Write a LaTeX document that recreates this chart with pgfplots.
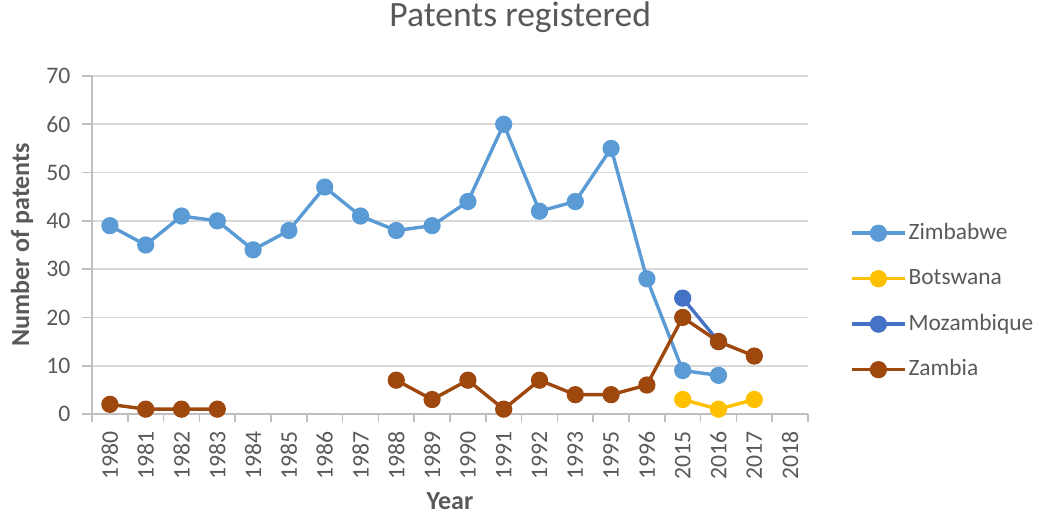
\documentclass[border=0pt]{standalone}
\usepackage{pgfplots}
\pgfplotsset{compat=1.18}
\usepackage{pgfplotstable}
\usepackage{fontspec}
\setmainfont{Carlito}
\definecolor{zim}{HTML}{5B9BD5}
\definecolor{bots}{HTML}{FFC000}
\definecolor{moz}{HTML}{4472C4}
\definecolor{zam}{HTML}{9E480E}
\definecolor{txt}{HTML}{595959}
\definecolor{grd}{HTML}{D9D9D9}
\definecolor{axl}{HTML}{BFBFBF}
\newcommand{\tf}{\fontsize{23.7}{27}\selectfont}

\pgfplotstableread{
x zim bots moz zam
0  39 nan nan 2
1  35 nan nan 1
2  41 nan nan 1
3  40 nan nan 1
4  34 nan nan nan
5  38 nan nan nan
6  47 nan nan nan
7  41 nan nan nan
8  38 nan nan 7
9  39 nan nan 3
10 44 nan nan 7
11 60 nan nan 1
12 42 nan nan 7
13 44 nan nan 4
14 55 nan nan 4
15 28 nan nan 6
16 9  3   24  20
17 8  1   15  15
18 nan 3  nan 12
19 nan nan nan nan
}\data

\begin{document}
\begin{tikzpicture}
\useasboundingbox (0,0) rectangle (1039pt,516pt);
\begin{axis}[
  at={(92pt,102pt)}, anchor=south west,
  scale only axis, width=716pt, height=338pt,
  xmin=-0.5, xmax=19.5, ymin=0, ymax=70,
  xtick={0,...,19},
  xticklabels={1980,1981,1982,1983,1984,1985,1986,1987,1988,1989,1990,1991,1992,1993,1995,1996,2015,2016,2017,2018},
  minor xtick={-0.5,0.5,...,19.5},
  ytick={0,10,...,70},
  yticklabels={0,10,20,30,40,50,60,70},
  axis x line*=bottom, axis y line*=left,
  axis line style={draw=axl, line width=1.6pt, -},
  tick align=outside,
  major tick length=10pt, minor tick length=8pt,
  major x tick style={draw=none},
  minor x tick style={draw=axl, line width=1.6pt},
  y tick style={draw=axl, line width=1.6pt},
  ymajorgrids, grid style={draw=grd, line width=1.8pt},
  tick label style={font=\tf, text=txt},
  xticklabel style={rotate=90, anchor=east},
  yticklabel style={anchor=east},
  xticklabel shift=4pt, yticklabel shift=8pt,
  unbounded coords=jump,
  title={Patents registered},
  title style={at={(axis description cs:0.598,1)}, anchor=base, yshift=43pt, font=\fontsize{35.6}{40}\selectfont, text=txt},
  xlabel={Year}, ylabel={Number of patents},
  xlabel style={at={(axis description cs:0.5,-0.284)}, anchor=base, font=\fontsize{26}{30}\selectfont\bfseries, text=txt},
  ylabel style={at={(axis description cs:-0.0978,0.5)}, anchor=center, font=\fontsize{26}{30}\selectfont\bfseries, text=txt},
  every axis plot/.append style={line width=3.4pt, mark=*, mark size=6.9pt},
  legend image code/.code={\draw[#1, mark repeat=2, mark phase=2] plot coordinates {(0pt,0pt) (26.5pt,0pt) (53pt,0pt)};},
  legend style={at={(axis description cs:1.0587,0.333)}, anchor=west, draw=none, fill=none, inner sep=0pt,
    font=\fontsize{23.4}{26}\selectfont, text=txt, row sep=21.5pt,
    nodes={inner sep=2pt, text height=16pt, text depth=4pt}},
  legend cell align=left,
]
\addplot[color=zim, mark options={fill=zim, draw=zim}] table[x=x, y=zim] {\data};
\addlegendentry{Zimbabwe}
\addplot[color=bots, mark options={fill=bots, draw=bots}] table[x=x, y=bots] {\data};
\addlegendentry{Botswana}
\addplot[color=moz, mark options={fill=moz, draw=moz}] table[x=x, y=moz] {\data};
\addlegendentry{Mozambique}
\addplot[color=zam, mark options={fill=zam, draw=zam}] table[x=x, y=zam] {\data};
\addlegendentry{Zambia}
\end{axis}
\end{tikzpicture}
\end{document}
